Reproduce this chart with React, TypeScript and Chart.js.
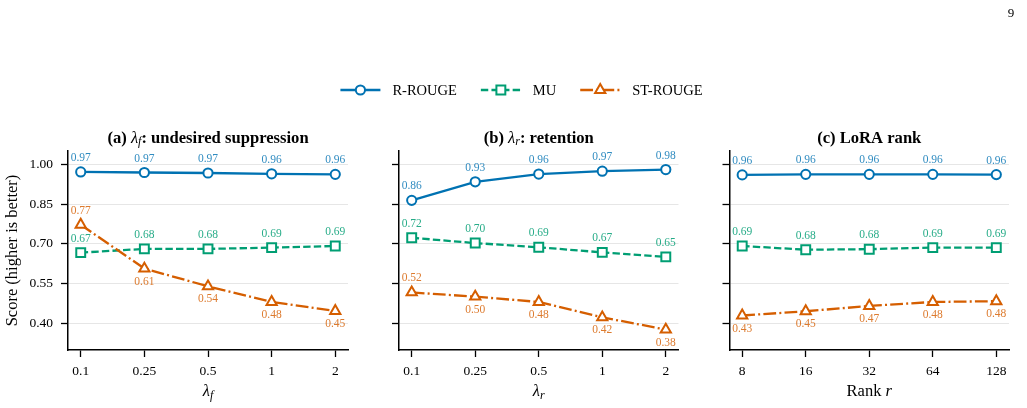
import React, { useEffect, useRef } from 'react';
import { Chart, registerables } from 'chart.js';
Chart.register(...registerables);

// ---------------- data ----------------
const lambdaTicks = ['0.1', '0.25', '0.5', '1', '2'];
const rankTicks = ['8', '16', '32', '64', '128'];
const yTickValues = [0.4, 0.55, 0.7, 0.85, 1.0];

const seriesNames = ['R-ROUGE', 'MU', 'ST-ROUGE'];

const aRRouge = [0.971, 0.969, 0.967, 0.964, 0.962];
const aMU = [0.667, 0.681, 0.681, 0.686, 0.692];
const aST = [0.772, 0.607, 0.54, 0.481, 0.447];

const bRRouge = [0.864, 0.934, 0.963, 0.974, 0.98];
const bMU = [0.723, 0.703, 0.687, 0.668, 0.651];
const bST = [0.517, 0.501, 0.481, 0.423, 0.377];

const cRRouge = [0.96, 0.962, 0.962, 0.962, 0.961];
const cMU = [0.692, 0.678, 0.68, 0.686, 0.686];
const cST = [0.43, 0.446, 0.466, 0.481, 0.484];

// ---------------- styles ----------------
const FONT = '"Liberation Serif", "Times New Roman", Times, serif';
const BLUE = '#0072B2';
const GREEN = '#009E73';
const ORANGE = '#D55E00';
const LABEL_COLORS = ['rgba(0,114,178,0.82)', 'rgba(0,158,115,0.85)', 'rgba(213,94,0,0.82)'];
const COLORS = [BLUE, GREEN, ORANGE];
const DASHES: number[][] = [[], [7.4, 3.2], [12.8, 3.2, 2, 3.2]];
const STYLES = ['circle', 'rect', 'triangle'];
const RADII = [4.6, 6.3, 5.9];

const W = 1027;
const H = 408;
const Y_AXIS_W = 50;
const TOP = 151;
const BOTTOM = 350;

type Seg = { t: string; f: string; dy?: number };

const TITLE_F = `bold 16.6px ${FONT}`;
const AX_F = 16.5;

const panels = [
  {
    left: 68, right: 348, ticks: lambdaTicks, showY: true,
    series: [aRRouge, aMU, aST],
    stPos: ['above', 'below', 'below', 'below', 'below'],
    title: [
      { t: '(a) ', f: TITLE_F },
      { t: 'λ', f: `italic 16.6px ${FONT}` },
      { t: 'f', f: `italic 12px ${FONT}`, dy: 3.5 },
      { t: ': undesired suppression', f: TITLE_F },
    ] as Seg[],
    xTitle: [
      { t: 'λ', f: `italic ${AX_F}px ${FONT}` },
      { t: 'f', f: `italic 12px ${FONT}`, dy: 3.5 },
    ] as Seg[],
  },
  {
    left: 399, right: 678.5, ticks: lambdaTicks, showY: false,
    series: [bRRouge, bMU, bST],
    stPos: ['above', 'below', 'below', 'below', 'below'],
    title: [
      { t: '(b) ', f: TITLE_F },
      { t: 'λ', f: `italic 16.6px ${FONT}` },
      { t: 'r', f: `italic 12px ${FONT}`, dy: 3.5 },
      { t: ': retention', f: TITLE_F },
    ] as Seg[],
    xTitle: [
      { t: 'λ', f: `italic ${AX_F}px ${FONT}` },
      { t: 'r', f: `italic 12px ${FONT}`, dy: 3.5 },
    ] as Seg[],
  },
  {
    left: 729.5, right: 1009, ticks: rankTicks, showY: false,
    series: [cRRouge, cMU, cST],
    stPos: ['below', 'below', 'below', 'below', 'below'],
    title: [{ t: '(c) LoRA rank', f: TITLE_F }] as Seg[],
    xTitle: [
      { t: 'Rank ', f: `${AX_F}px ${FONT}` },
      { t: 'r', f: `italic ${AX_F}px ${FONT}` },
    ] as Seg[],
  },
];

function drawRich(ctx: CanvasRenderingContext2D, segs: Seg[], cx: number, cy: number) {
  ctx.save();
  ctx.textBaseline = 'middle';
  ctx.textAlign = 'left';
  let total = 0;
  const widths = segs.map((s) => {
    ctx.font = s.f;
    const w = ctx.measureText(s.t).width;
    total += w;
    return w;
  });
  let x = cx - total / 2;
  segs.forEach((s, i) => {
    ctx.font = s.f;
    ctx.fillStyle = '#000';
    ctx.fillText(s.t, x, cy + (s.dy || 0));
    x += widths[i];
  });
  ctx.restore();
}

function drawMarker(ctx: CanvasRenderingContext2D, style: string, x: number, y: number, r: number, color: string) {
  ctx.save();
  ctx.setLineDash([]);
  ctx.strokeStyle = color;
  ctx.fillStyle = '#fff';
  ctx.lineWidth = 2;
  ctx.beginPath();
  if (style === 'circle') {
    ctx.arc(x, y, r, 0, Math.PI * 2);
  } else if (style === 'rect') {
    const s = Math.SQRT1_2 * r;
    ctx.rect(x - s, y - s, 2 * s, 2 * s);
  } else {
    let rad = 0;
    ctx.moveTo(x + Math.sin(rad) * r, y - Math.cos(rad) * r);
    rad += (2 * Math.PI) / 3;
    ctx.lineTo(x + Math.sin(rad) * r, y - Math.cos(rad) * r);
    rad += (2 * Math.PI) / 3;
    ctx.lineTo(x + Math.sin(rad) * r, y - Math.cos(rad) * r);
    ctx.closePath();
  }
  ctx.fill();
  ctx.stroke();
  ctx.restore();
}

function drawLegend(ctx: CanvasRenderingContext2D) {
  const handle = 40;
  const gap = 12;
  const spacing = 24;
  const cy = 90;
  ctx.save();
  ctx.font = `14.5px ${FONT}`;
  const tw = seriesNames.map((n) => ctx.measureText(n).width);
  const total = tw.reduce((a, b) => a + b, 0) + 3 * (handle + gap) + 2 * spacing;
  let x = 521.5 - total / 2;
  seriesNames.forEach((n, i) => {
    ctx.save();
    ctx.strokeStyle = COLORS[i];
    ctx.lineWidth = 2.3;
    ctx.setLineDash(DASHES[i]);
    ctx.beginPath();
    ctx.moveTo(x, cy);
    ctx.lineTo(x + handle, cy);
    ctx.stroke();
    ctx.restore();
    drawMarker(ctx, STYLES[i], x + handle / 2, cy, RADII[i], COLORS[i]);
    ctx.fillStyle = '#000';
    ctx.font = `14.5px ${FONT}`;
    ctx.textBaseline = 'middle';
    ctx.textAlign = 'left';
    ctx.fillText(n, x + handle + gap, cy + 1);
    x += handle + gap + tw[i] + spacing;
  });
  ctx.restore();
}

function makeConfig(p: (typeof panels)[number], isMain: boolean): any {
  const overlay = {
    id: 'overlay' + p.left,
    afterDatasetsDraw(chart: any) {
      const ctx: CanvasRenderingContext2D = chart.ctx;
      ctx.save();
      ctx.font = `11.5px ${FONT}`;
      ctx.textAlign = 'center';
      ctx.textBaseline = 'middle';
      p.series.forEach((vals, d) => {
        const meta = chart.getDatasetMeta(d);
        meta.data.forEach((pt: any, i: number) => {
          const pos = d === 2 ? p.stPos[i] : 'above';
          const y = pos === 'above' ? pt.y - 14 : pt.y + 13;
          ctx.fillStyle = LABEL_COLORS[d];
          ctx.fillText(vals[i].toFixed(2), pt.x, y);
        });
      });
      ctx.restore();
    },
    afterDraw(chart: any) {
      const ctx: CanvasRenderingContext2D = chart.ctx;
      const ca = chart.chartArea;
      const cx = (ca.left + ca.right) / 2;
      drawRich(ctx, p.title, cx, 138.5);
      drawRich(ctx, p.xTitle, cx, 392);
      if (p.showY) {
        ctx.save();
        ctx.translate(13, (ca.top + ca.bottom) / 2);
        ctx.rotate(-Math.PI / 2);
        ctx.font = `${AX_F}px ${FONT}`;
        ctx.fillStyle = '#000';
        ctx.textAlign = 'center';
        ctx.textBaseline = 'middle';
        ctx.fillText('Score (higher is better)', 0, 0);
        ctx.restore();
      }
      if (isMain) {
        drawLegend(ctx);
        ctx.save();
        ctx.font = `13px ${FONT}`;
        ctx.fillStyle = '#000';
        ctx.textAlign = 'center';
        ctx.textBaseline = 'middle';
        ctx.fillText('9', 1011, 14);
        ctx.restore();
      }
    },
  };

  return {
    type: 'line',
    data: {
      datasets: p.series.map((vals, d) => ({
        label: seriesNames[d],
        data: vals.map((v, i) => ({ x: i, y: v })),
        borderColor: COLORS[d],
        backgroundColor: '#fff',
        borderWidth: 2.3,
        borderDash: DASHES[d],
        pointStyle: STYLES[d],
        pointRadius: RADII[d],
        pointBorderWidth: 2,
        pointBorderColor: COLORS[d],
        pointBackgroundColor: '#fff',
        tension: 0,
        order: 2 - d,
      })),
    },
    options: {
      animation: false,
      responsive: false,
      devicePixelRatio: 1,
      events: [],
      layout: {
        autoPadding: false,
        padding: { left: p.left - Y_AXIS_W, right: W - p.right, top: TOP, bottom: 0 },
      },
      plugins: {
        legend: { display: false },
        title: { display: false },
        tooltip: { enabled: false },
      },
      scales: {
        x: {
          type: 'linear',
          min: -0.2,
          max: 4.2,
          afterBuildTicks: (s: any) => {
            s.ticks = p.ticks.map((_, i) => ({ value: i }));
          },
          afterFit: (s: any) => {
            s.height = H - BOTTOM;
          },
          ticks: {
            callback: (v: any) => p.ticks[v] ?? '',
            font: { family: FONT, size: 13.5 },
            color: '#000',
            padding: 6,
            maxRotation: 0,
            autoSkip: false,
          },
          grid: {
            drawOnChartArea: false,
            drawTicks: true,
            tickLength: 7,
            tickColor: '#000',
            tickWidth: 1.3,
          },
          border: { display: true, color: '#000', width: 1.5 },
        },
        y: {
          type: 'linear',
          min: 0.3,
          max: 1.05,
          afterBuildTicks: (s: any) => {
            s.ticks = yTickValues.map((v) => ({ value: v }));
          },
          afterFit: (s: any) => {
            s.width = Y_AXIS_W;
          },
          ticks: {
            callback: (v: any) => (p.showY ? Number(v).toFixed(2) : ''),
            font: { family: FONT, size: 13.5 },
            color: '#000',
            padding: 8,
            autoSkip: false,
          },
          grid: {
            color: '#e6e6e6',
            lineWidth: 1,
            drawTicks: true,
            tickLength: 7,
            tickColor: '#000',
            tickWidth: 1.3,
          },
          border: { display: true, color: '#000', width: 1.5 },
        },
      },
    },
    plugins: [overlay],
  };
}

export default function App() {
  const r0 = useRef<HTMLCanvasElement | null>(null);
  const r1 = useRef<HTMLCanvasElement | null>(null);
  const r2 = useRef<HTMLCanvasElement | null>(null);
  const refs = [r0, r1, r2];

  useEffect(() => {
    const charts = panels.map((p, k) => new Chart(refs[k].current as HTMLCanvasElement, makeConfig(p, k === 1)));
    return () => charts.forEach((c) => c.destroy());
  }, []);

  return (
    <div style={{ position: 'fixed', left: 0, top: 0, width: W, height: H, background: '#fff' }}>
      {panels.map((_, k) => (
        <canvas
          key={k}
          ref={refs[k]}
          width={W}
          height={H}
          style={{ position: 'absolute', left: 0, top: 0, width: W, height: H }}
        />
      ))}
    </div>
  );
}
